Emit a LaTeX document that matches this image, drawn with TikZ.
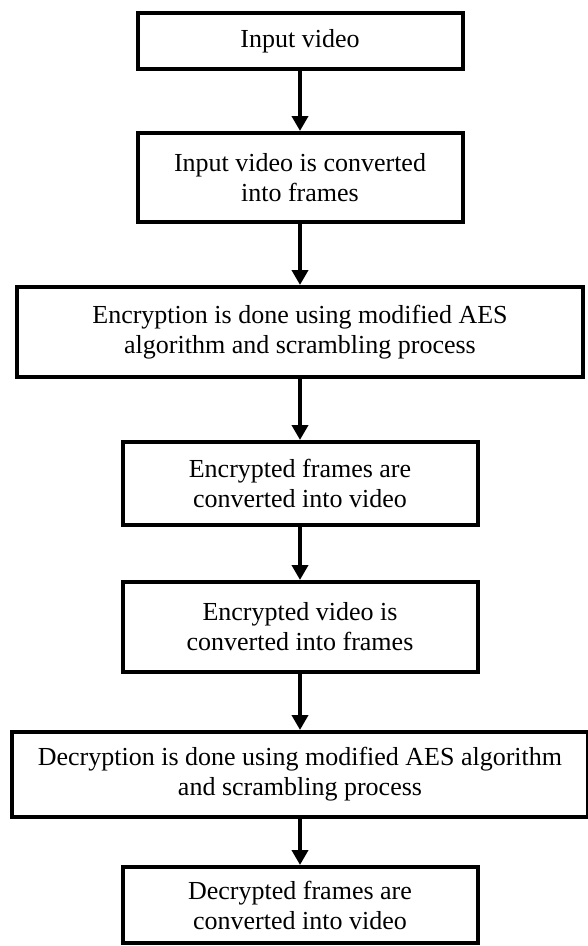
\documentclass[tikz,border=0pt]{standalone}
\usepackage{fontspec}
\setmainfont{Liberation Serif}
\usetikzlibrary{arrows.meta}

\begin{document}
\begin{tikzpicture}[x=1pt,y=-1pt,
  blk/.style n args={2}{draw,line width=4pt,minimum width=#1pt,minimum height=#2pt,align=center,inner sep=0pt,font=\fontsize{26}{30}\selectfont},
  flow/.style={line width=4pt,-{Triangle[width=16pt,length=15pt]}}]
\useasboundingbox (0,0) rectangle (588,946);
\node[blk={325}{56}](invid) at(300,41) {Input video};
\node[blk={325}{89}](toframes) at(300,177.5) {Input video is converted\\into frames};
\node[blk={566}{90}](encrypt) at(300,332) {Encryption is done using modified AES\\algorithm and scrambling process};
\node[blk={355}{83}](tovideo) at(300,483.5) {Encrypted frames are\\converted into video};
\node[blk={355}{90}](encframes) at(300,627) {Encrypted video is\\converted into frames};
\node[blk={576}{85}](decrypt) at(300,774.5) {Decryption is done using modified AES algorithm\\and scrambling process};
\node[blk={355}{76}](decvideo) at(300,905) {Decrypted frames are\\converted into video};
\draw[flow] (invid) -- (toframes);
\draw[flow] (toframes) -- (encrypt);
\draw[flow] (encrypt) -- (tovideo);
\draw[flow] (tovideo) -- (encframes);
\draw[flow] (encframes) -- (decrypt);
\draw[flow] (decrypt) -- (decvideo);
\end{tikzpicture}
\end{document}
